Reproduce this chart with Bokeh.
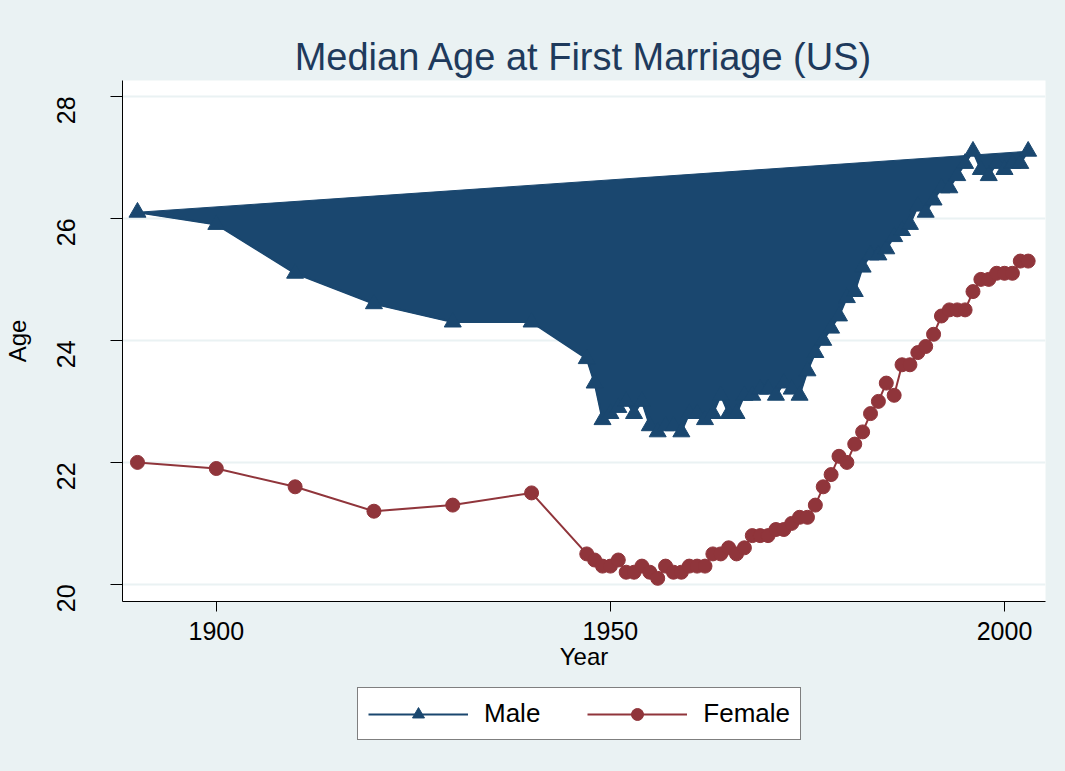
from bokeh.plotting import figure
from bokeh.layouts import column
from bokeh.models import Range1d, FixedTicker, Legend, LegendItem, ColumnDataSource
from bokeh.embed import file_html
from bokeh.resources import INLINE
import math

years = [1890, 1900, 1910, 1920, 1930, 1940] + list(range(1947, 2004))
male = [26.1, 25.9, 25.1, 24.6, 24.3, 24.3,
        23.7, 23.3, 22.7, 22.8, 22.9, 23.0, 22.8, 23.0, 22.6, 22.5,
        22.6, 22.6, 22.5, 22.8, 22.8, 22.7, 22.8, 23.1, 22.8, 22.8,
        23.1, 23.1, 23.2, 23.2, 23.1, 23.3, 23.2, 23.1, 23.5, 23.8,
        24.0, 24.2, 24.4, 24.7, 24.8, 25.2, 25.4, 25.4, 25.5, 25.7,
        25.8, 25.9, 26.2, 26.1, 26.3, 26.5, 26.5, 26.7, 26.9, 27.1,
        26.8, 26.7, 26.9, 26.8, 26.9, 26.9, 27.1]
female = [22.0, 21.9, 21.6, 21.2, 21.3, 21.5,
          20.5, 20.4, 20.3, 20.3, 20.4, 20.2, 20.2, 20.3, 20.2, 20.1,
          20.3, 20.2, 20.2, 20.3, 20.3, 20.3, 20.5, 20.5, 20.6, 20.5,
          20.6, 20.8, 20.8, 20.8, 20.9, 20.9, 21.0, 21.1, 21.1, 21.3,
          21.6, 21.8, 22.1, 22.0, 22.3, 22.5, 22.8, 23.0, 23.3, 23.1,
          23.6, 23.6, 23.8, 23.9, 24.1, 24.4, 24.5, 24.5, 24.5, 24.8,
          25.0, 25.0, 25.1, 25.1, 25.1, 25.3, 25.3]
x_ticks = [1900, 1950, 2000]
y_ticks = [20, 22, 24, 26, 28]
series_names = ["Male", "Female"]

NAVY = "#1A476F"
MAROON = "#90353B"
BG = "#EAF2F3"
FONT = "Liberation Sans"

src = ColumnDataSource(dict(year=years, male=male, female=female))

p = figure(width=1065, height=680, output_backend="svg", toolbar_location=None,
           x_range=Range1d(1888.1, 2005.2), y_range=Range1d(19.72, 28.26),
           min_border_left=122, min_border_top=75, min_border_right=20, min_border_bottom=84)
p.margin = (5, 0, 0, 0)

p.border_fill_color = BG
p.background_fill_color = "white"
p.outline_line_color = None

# Male: filled area (polygon closes back to first point), line and triangles
p.patch("year", "male", source=src, fill_color=NAVY, line_color=NAVY, line_width=1)
p.line("year", "male", source=src, line_color=NAVY, line_width=2)
p.scatter("year", "male", source=src, marker="triangle", size=17,
          fill_color=NAVY, line_color=NAVY)

p.line("year", "female", source=src, line_color=MAROON, line_width=2)
p.scatter("year", "female", source=src, marker="circle", size=14,
          fill_color=MAROON, line_color=MAROON)

# Title
p.title.text = "Median Age at First Marriage (US)"
p.title.text_font = FONT
p.title.text_font_size = "38px"
p.title.text_font_style = "normal"
p.title.text_color = "#1E3A5C"
p.title.align = "center"
p.title.offset = 0
p.title.standoff = 6

# Axes
for ax in (p.xaxis[0], p.yaxis[0]):
    ax.axis_line_color = "black"
    ax.major_tick_line_color = "black"
    ax.major_tick_in = 0
    ax.minor_tick_line_color = None
    ax.major_label_text_font = FONT
    ax.major_label_text_font_size = "25px"
    ax.major_label_text_color = "black"
    ax.axis_label_text_font = FONT
    ax.axis_label_text_font_size = "24px"
    ax.axis_label_text_font_style = "normal"
    ax.axis_label_text_color = "black"

p.xaxis[0].ticker = FixedTicker(ticks=x_ticks)
p.yaxis[0].ticker = FixedTicker(ticks=y_ticks)
p.xaxis[0].axis_label = "Year"
p.yaxis[0].axis_label = "Age"
p.xaxis[0].major_tick_out = 10
p.xaxis[0].major_label_standoff = 10
p.xaxis[0].axis_label_standoff = 0
p.yaxis[0].major_tick_out = 12
p.yaxis[0].major_label_orientation = math.pi / 2
p.yaxis[0].major_label_standoff = 44
p.yaxis[0].axis_label_standoff = 15

p.xgrid.grid_line_color = None
p.ygrid.grid_line_color = BG
p.ygrid.grid_line_width = 2
p.ygrid.ticker = FixedTicker(ticks=y_ticks)

# Legend strip (separate figure so the legend can sit below the plot area);
# its renderers use the same data but the view range keeps them out of sight.
lg = figure(width=1065, height=86, output_backend="svg", toolbar_location=None,
            x_range=Range1d(0, 1), y_range=Range1d(0, 1),
            min_border_left=122, min_border_right=20, min_border_top=0, min_border_bottom=0,
            x_axis_type=None, y_axis_type=None)
lg.margin = (0, 0, 0, 0)
lg.border_fill_color = BG
lg.background_fill_color = BG
lg.background_fill_alpha = 0
lg.outline_line_color = None
lg.xgrid.grid_line_color = None
lg.ygrid.grid_line_color = None
lm_line = lg.line("year", "male", source=src, line_color=NAVY, line_width=2)
lm_pts = lg.scatter("year", "male", source=src, marker="triangle", size=15,
                    fill_color=NAVY, line_color=NAVY)
lf_line = lg.line("year", "female", source=src, line_color=MAROON, line_width=2)
lf_pts = lg.scatter("year", "female", source=src, marker="circle", size=13,
                    fill_color=MAROON, line_color=MAROON)

legend = Legend(items=[LegendItem(label=series_names[0], renderers=[lm_line, lm_pts]),
                       LegendItem(label=series_names[1], renderers=[lf_line, lf_pts])],
                orientation="horizontal", location=(235, 31))
legend.label_text_font = FONT
legend.label_text_font_size = "26px"
legend.label_text_color = "black"
legend.glyph_width = 100
legend.glyph_height = 30
legend.label_height = 30
legend.spacing = 47
legend.padding = 10
legend.margin = 0
legend.border_line_color = "black"
legend.border_line_width = 1
legend.background_fill_color = "white"
legend.background_fill_alpha = 1
legend.label_standoff = 16
lg.add_layout(legend, "center")

layout = column(p, lg, spacing=0)
layout.styles = {"background-color": BG}
open("out.html", "w").write(file_html(layout, INLINE))
